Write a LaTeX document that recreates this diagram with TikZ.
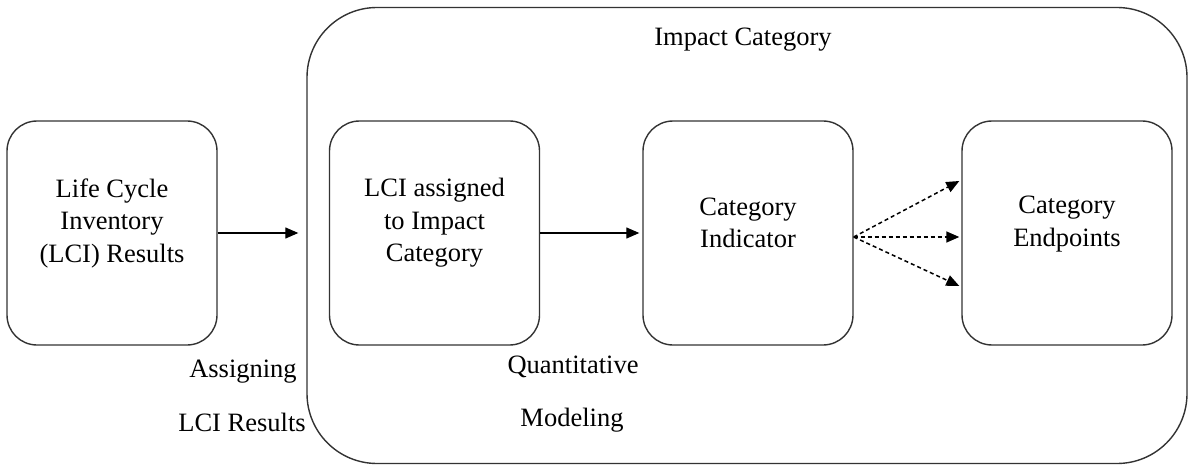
\documentclass[tikz,border=0pt]{standalone}
\usepackage{fontspec}
\setmainfont{Liberation Serif}
\newfontfamily\tnr{Liberation Serif}
\usetikzlibrary{arrows.meta}
\begin{document}
\begin{tikzpicture}[x=1pt,y=-1pt,
  every node/.style={font=\tnr\fontsize{26.5}{32.5}\selectfont, text=black},
  stagebox/.style={draw=black!80, line width=1.4pt, rounded corners=30pt, minimum width=210pt, minimum height=224pt, inner sep=0pt},
  bigbox/.style={draw=black!80, line width=1.4pt, rounded corners=70pt, minimum width=880pt, minimum height=456pt, inner sep=0pt},
  txt/.style={align=center, inner sep=0pt},
  arr/.style={line width=1.3pt, -{Triangle[length=13pt,width=11pt]}},
  darr/.style={line width=1.5pt, dash pattern=on 4pt off 3pt, -{Triangle[length=13pt,width=11pt]}}]
\useasboundingbox (0,0) rectangle (1188,465);
\node[bigbox] (big) at (747,235.5) {};
\node[txt] (bigt) at (743,40) {Impact Category};
\node[stagebox] (lci) at (112,233) {};
\node[txt] (lcit) at (112,223) {Life Cycle\\Inventory\\(LCI) Results};
\node[stagebox] (asg) at (434.5,233) {};
\node[txt] (asgt) at (434.5,223) {LCI assigned\\to Impact\\Category};
\node[stagebox] (ind) at (748,233) {};
\node[txt] (indt) at (748,223) {Category\\Indicator};
\node[stagebox] (end) at (1067,233) {};
\node[txt] (endt) at (1067,224) {Category\\Endpoints};
\node[txt] (l1) at (243,372) {Assigning};
\node[txt] (l2) at (242,422) {LCI Results};
\node[txt] (l3) at (573,367) {Quantitative};
\node[txt] (l4) at (572,420) {Modeling};
\coordinate (bigin) at ([xshift=-8pt]big.west |- lci.east);
\draw[arr] (lci.east) -- (bigin);
\draw[arr] (asg.east) -- ([xshift=-3pt]ind.west);
\draw[darr] ([yshift=-4pt]ind.east) -- ([xshift=-2pt,yshift=-53pt]end.west);
\draw[darr] ([yshift=-4pt]ind.east) -- ([xshift=-2pt,yshift=-4pt]end.west);
\draw[darr] ([yshift=-4pt]ind.east) -- ([xshift=-2pt,yshift=52pt]end.west);
\end{tikzpicture}
\end{document}
